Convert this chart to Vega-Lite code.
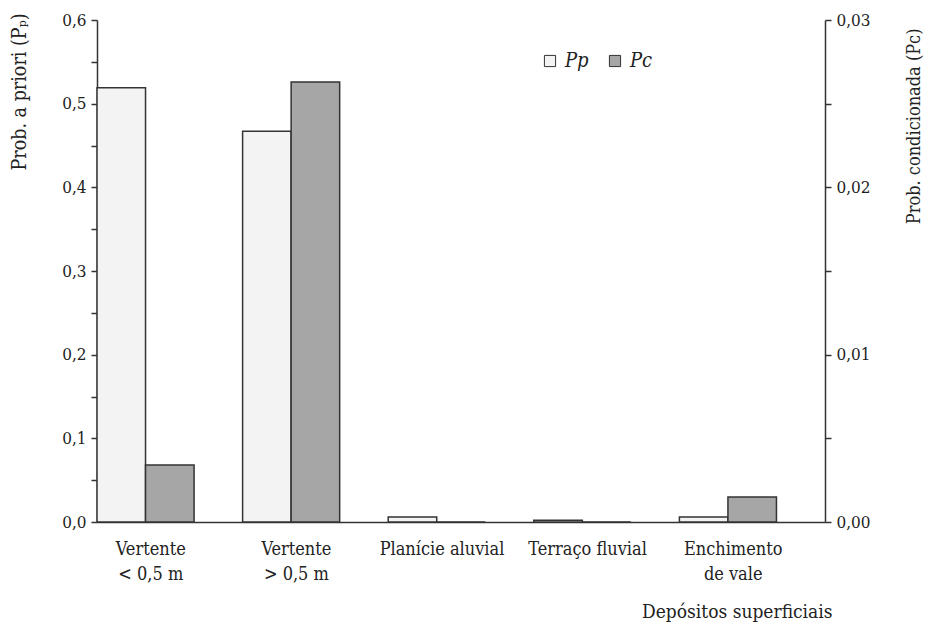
{
  "$schema": "https://vega.github.io/schema/vega-lite/v6.json",
  "width": 728,
  "height": 502,
  "autosize": {"type": "none"},
  "padding": {"left": 97, "top": 20, "right": 103, "bottom": 105},
  "background": "white",
  "config": {
    "locale": {"number": {"decimal": ",", "thousands": ".", "grouping": [3], "currency": ["", ""]}},
    "font": "DejaVu Serif Condensed, DejaVu Serif",
    "view": {"stroke": null},
    "axis": {
      "labelFont": "DejaVu Serif Condensed, DejaVu Serif",
      "titleFont": "DejaVu Serif Condensed, DejaVu Serif",
      "labelFontSize": 17,
      "titleFontSize": 18,
      "labelColor": "#222",
      "titleColor": "#222",
      "titleFontWeight": "normal",
      "domainColor": "#333",
      "tickColor": "#333",
      "domainWidth": 1.5,
      "tickWidth": 1.5,
      "tickSize": 6,
      "grid": false
    }
  },
  "data": {
    "values": [
      {"deposito": "Vertente\n< 0,5 m", "serie": "Pp", "valor": 0.519},
      {"deposito": "Vertente\n< 0,5 m", "serie": "Pc", "valor": 0.0034},
      {"deposito": "Vertente\n> 0,5 m", "serie": "Pp", "valor": 0.467},
      {"deposito": "Vertente\n> 0,5 m", "serie": "Pc", "valor": 0.0263},
      {"deposito": "Planície aluvial", "serie": "Pp", "valor": 0.006},
      {"deposito": "Planície aluvial", "serie": "Pc", "valor": 0},
      {"deposito": "Terraço fluvial", "serie": "Pp", "valor": 0.002},
      {"deposito": "Terraço fluvial", "serie": "Pc", "valor": 0},
      {"deposito": "Enchimento\nde vale", "serie": "Pp", "valor": 0.006},
      {"deposito": "Enchimento\nde vale", "serie": "Pc", "valor": 0.0015}
    ]
  },
  "encoding": {
    "x": {
      "field": "deposito",
      "type": "nominal",
      "scale": {
        "domain": ["Vertente\n< 0,5 m", "Vertente\n> 0,5 m", "Planície aluvial", "Terraço fluvial", "Enchimento\nde vale"],
        "paddingInner": 0,
        "paddingOuter": 0
      },
      "axis": {
        "title": "Depósitos superficiais",
        "labelAngle": 0,
        "ticks": false,
        "labelPadding": 18,
        "labelOffset": -19,
        "labelExpr": "split(datum.label, '\\n')",
        "labelLineHeight": 25,
        "labelBaseline": "top",
        "labelFontSize": 18,
        "titleX": 735,
        "titleAlign": "right",
        "titlePadding": 19,
        "titleFontSize": 19
      }
    },
    "xOffset": {
      "field": "serie",
      "type": "nominal",
      "scale": {"domain": ["Pp", "Pc"], "paddingInner": 0, "paddingOuter": 0.5, "align": 0}
    },
    "color": {
      "field": "serie",
      "type": "nominal",
      "scale": {"domain": ["Pp", "Pc"], "range": ["#f3f3f3", "#a6a6a6"]},
      "legend": {
        "title": null,
        "orient": "none",
        "direction": "horizontal",
        "legendX": 443,
        "legendY": 31,
        "symbolType": "square",
        "symbolSize": 125,
        "symbolStrokeColor": "#333",
        "symbolStrokeWidth": 1,
        "symbolOpacity": 1,
        "labelFont": "DejaVu Serif Condensed, DejaVu Serif",
        "labelFontStyle": "italic",
        "labelFontSize": 20,
        "labelColor": "#222",
        "labelOffset": 5,
        "columnPadding": 16
      }
    }
  },
  "layer": [
    {
      "transform": [{"filter": "datum.serie == 'Pp'"}],
      "mark": {"type": "bar", "stroke": "#333", "strokeWidth": 1.5},
      "encoding": {
        "y": {
          "field": "valor",
          "type": "quantitative",
          "scale": {"domain": [0, 0.6], "nice": false},
          "axis": {
            "title": "Prob. a priori (Pₚ)",
            "orient": "left",
            "values": [0, 0.05, 0.1, 0.15, 0.2, 0.25, 0.3, 0.35, 0.4, 0.45, 0.5, 0.55, 0.6],
            "format": ".1f",
            "labelExpr": "round(datum.value * 100) % 10 == 0 ? datum.label : ''",
            "labelPadding": 5,
            "titleFontSize": 19.5,
            "titleAngle": -90,
            "titleX": -78,
            "titleY": -7,
            "titleAlign": "right",
            "titleBaseline": "middle"
          }
        }
      }
    },
    {
      "transform": [{"filter": "datum.serie == 'Pc'"}],
      "mark": {"type": "bar", "stroke": "#333", "strokeWidth": 1.5},
      "encoding": {
        "y": {
          "field": "valor",
          "type": "quantitative",
          "scale": {"domain": [0, 0.03], "nice": false},
          "axis": {
            "title": "Prob. condicionada (Pᴄ)",
            "orient": "right",
            "values": [0, 0.005, 0.01, 0.015, 0.02, 0.025, 0.03],
            "format": ".2f",
            "labelExpr": "round(datum.value * 1000) % 10 == 0 ? datum.label : ''",
            "labelPadding": 5,
            "titleAngle": -90,
            "titleX": 89,
            "titleY": 8,
            "titleAlign": "right",
            "titleBaseline": "middle"
          }
        }
      }
    }
  ],
  "resolve": {"scale": {"y": "independent"}}
}
